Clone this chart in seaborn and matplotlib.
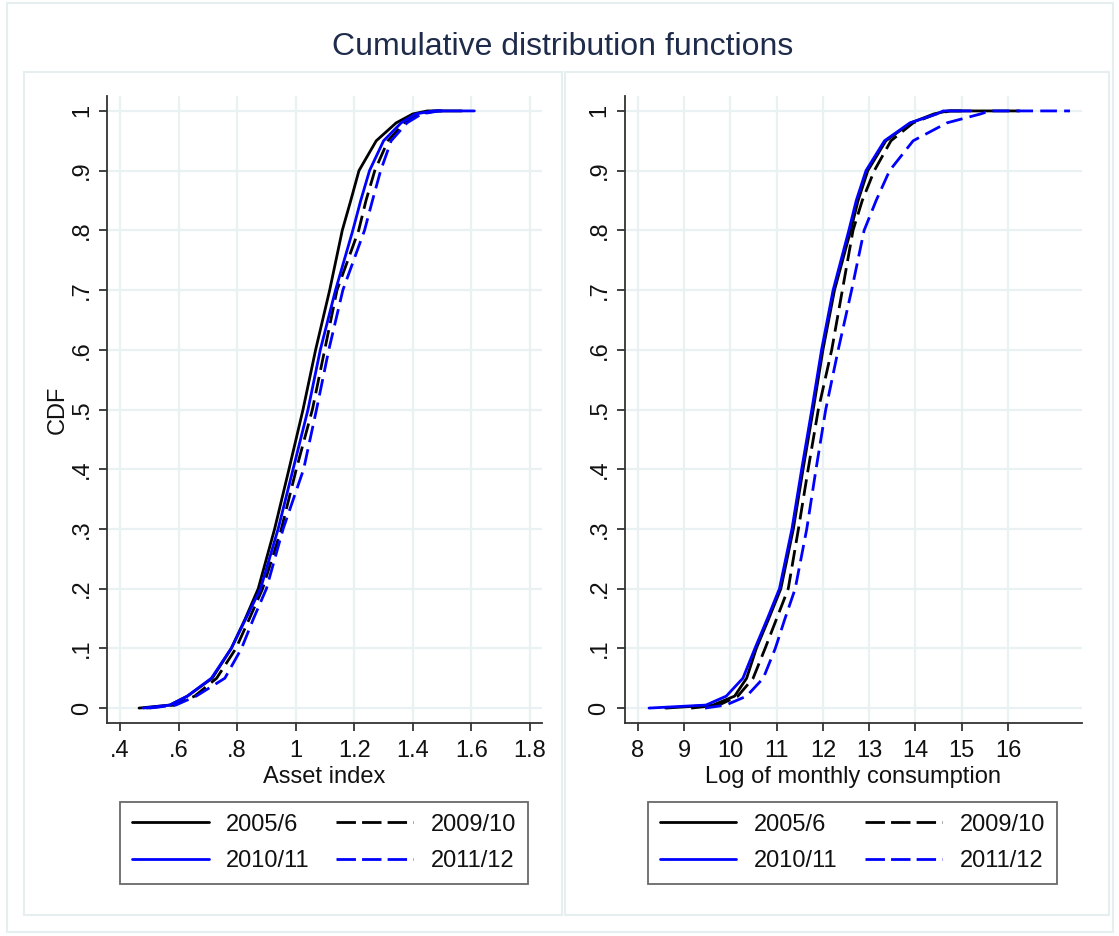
import numpy as np
import pandas as pd
import matplotlib
matplotlib.use("Agg")
import matplotlib.pyplot as plt
from matplotlib.lines import Line2D
from matplotlib.patches import Rectangle
import seaborn as sns

# Survey rounds
periods = ["2005/6", "2009/10", "2010/11", "2011/12"]

# CDF levels at which each distribution is traced (last two: top reached, maximum)
cdf_levels = [0, 0.005, 0.02, 0.05, 0.1, 0.15, 0.2, 0.3, 0.4, 0.5, 0.6, 0.7,
              0.8, 0.85, 0.9, 0.95, 0.98, 0.995, 1.0, 1.0]

# Asset index quantiles per round
asset_2005 = [0.465, 0.57, 0.63, 0.715, 0.78, 0.828, 0.872, 0.928, 0.977, 1.025, 1.068,
              1.116, 1.159, 1.188, 1.216, 1.275, 1.343, 1.40, 1.45, 1.567]
asset_2009 = [0.49, 0.585, 0.655, 0.73, 0.796, 0.842, 0.887, 0.951, 1.002, 1.057, 1.099,
              1.141, 1.215, 1.24, 1.27, 1.315, 1.37, 1.42, 1.48, 1.50]
asset_2010 = [0.48, 0.57, 0.63, 0.712, 0.78, 0.830, 0.880, 0.940, 0.991, 1.042, 1.084,
              1.136, 1.195, 1.222, 1.252, 1.30, 1.36, 1.41, 1.47, 1.61]
asset_2011 = [0.50, 0.59, 0.66, 0.758, 0.815, 0.856, 0.900, 0.957, 1.027, 1.071, 1.113,
              1.161, 1.235, 1.262, 1.29, 1.326, 1.38, 1.43, 1.49, 1.52]

# Log of monthly consumption quantiles per round
cons_2005 = [8.6, 9.62, 10.09, 10.35, 10.56, 10.83, 11.09, 11.36, 11.57, 11.79, 12.0,
             12.25, 12.6, 12.76, 12.97, 13.36, 13.9, 14.4, 14.7, 16.25]
cons_2009 = [9.15, 9.75, 10.16, 10.49, 10.75, 11.0, 11.25, 11.47, 11.68, 11.90, 12.19,
             12.42, 12.65, 12.85, 13.11, 13.47, 13.95, 14.45, 14.75, 15.0]
cons_2010 = [8.24, 9.47, 9.91, 10.27, 10.53, 10.80, 11.06, 11.33, 11.54, 11.76, 11.97,
             12.22, 12.56, 12.72, 12.93, 13.33, 13.88, 14.46, 14.6, 15.2]
cons_2011 = [9.45, 9.9, 10.35, 10.71, 10.97, 11.18, 11.40, 11.65, 11.85, 12.06, 12.33,
             12.62, 12.89, 13.15, 13.44, 13.95, 14.68, 15.41, 15.6, 17.34]

asset_ticks = [0.4, 0.6, 0.8, 1.0, 1.2, 1.4, 1.6, 1.8]
asset_tick_labels = [".4", ".6", ".8", "1", "1.2", "1.4", "1.6", "1.8"]
cons_ticks = [8, 9, 10, 11, 12, 13, 14, 15, 16]
cons_tick_labels = ["8", "9", "10", "11", "12", "13", "14", "15", "16"]
cdf_ticks = [0, 0.1, 0.2, 0.3, 0.4, 0.5, 0.6, 0.7, 0.8, 0.9, 1.0]
cdf_tick_labels = ["0", ".1", ".2", ".3", ".4", ".5", ".6", ".7", ".8", ".9", "1"]

colors = {"2005/6": "#000000", "2009/10": "#000000",
          "2010/11": "#0000ff", "2011/12": "#0000ff"}
dash_pat = (6, 2.6)
legend_dash = (7, 2.2)
dashes = {"2005/6": "", "2009/10": dash_pat, "2010/11": "", "2011/12": dash_pat}
line_w = 2.0


def long_frame(series):
    frames = []
    for p, xs in zip(periods, series):
        frames.append(pd.DataFrame({"x": xs, "cdf": cdf_levels, "period": p}))
    return pd.concat(frames, ignore_index=True)


asset_df = long_frame([asset_2005, asset_2009, asset_2010, asset_2011])
cons_df = long_frame([cons_2005, cons_2009, cons_2010, cons_2011])

sns.set_theme(style="white")
plt.rcParams["font.family"] = ["Liberation Sans", "DejaVu Sans"]

W, H = 1119, 936
fig = plt.figure(figsize=(W / 100, H / 100), dpi=100)
fig.patch.set_facecolor("white")

frame_col = "#e6eef0"
text_col = "#111111"
axis_col = "#333333"


def px_rect(x0, y0, x1, y1):
    return (x0 / W, 1 - y1 / H, (x1 - x0) / W, (y1 - y0) / H)


# Graph region borders
for (x0, y0, x1, y1) in [(7, 3, 1113, 932), (24, 72, 562, 915), (565, 72, 1109, 915)]:
    l, b, w, h = px_rect(x0, y0, x1, y1)
    fig.patches.append(Rectangle((l, b), w, h, transform=fig.transFigure,
                                 fill=False, ec=frame_col, lw=1.5, zorder=0))

ax1 = fig.add_axes(px_rect(107, 96, 542, 723))
ax2 = fig.add_axes(px_rect(624.5, 96, 1082, 723))

panels = [
    (ax1, asset_df, (0.3556, 1.841), asset_ticks, asset_tick_labels, "Asset index",
     (0.03, 0.938)),
    (ax2, cons_df, (7.71, 17.6), cons_ticks, cons_tick_labels, "Log of monthly consumption",
     (0.051, 0.894)),
]

for ax, df, xlim, xt, xtl, xlabel, (lx, lw_) in panels:
    sns.lineplot(data=df, x="x", y="cdf", hue="period", style="period",
                 hue_order=periods, style_order=periods, palette=colors,
                 dashes=dashes, sort=False, estimator=None, lw=line_w,
                 legend=False, ax=ax)
    ax.set_xlim(*xlim)
    ax.set_ylim(-0.025, 1.025)
    ax.set_xticks(xt)
    ax.set_xticklabels(xtl)
    ax.set_yticks(cdf_ticks)
    ax.set_yticklabels(cdf_tick_labels)
    ax.set_axisbelow(True)
    ax.grid(True, color="#e9f1f2", lw=1.6)
    for s in ["top", "right"]:
        ax.spines[s].set_visible(False)
    for s in ["left", "bottom"]:
        ax.spines[s].set_color(axis_col)
        ax.spines[s].set_linewidth(1.3)
    ax.tick_params(direction="out", length=6, width=1.3, color=axis_col,
                   labelsize=17, labelcolor=text_col, pad=6,
                   bottom=True, left=True)
    ax.tick_params(axis="y", labelrotation=90, pad=4)
    for t in ax.get_yticklabels():
        t.set_va("center")
    ax.set_xlabel(xlabel, fontsize=17, color=text_col, labelpad=3)
    ax.set_ylabel("")

    handles = [
        Line2D([], [], color=colors["2005/6"], lw=line_w, ls="-"),
        Line2D([], [], color=colors["2010/11"], lw=line_w, ls="-"),
        Line2D([], [], color=colors["2009/10"], lw=line_w, dashes=legend_dash),
        Line2D([], [], color=colors["2011/12"], lw=line_w, dashes=legend_dash),
    ]
    labels = ["2005/6", "2010/11", "2009/10", "2011/12"]
    leg = ax.legend(handles, labels, ncol=2, loc="upper left", mode="expand",
                    bbox_to_anchor=(lx, -0.1258, lw_, 0.0), borderaxespad=0,
                    fontsize=17, handlelength=3.25, handletextpad=0.75,
                    labelspacing=0.62, borderpad=0.5, columnspacing=1.0,
                    fancybox=False, frameon=True)
    leg.get_frame().set_edgecolor("#444444")
    leg.get_frame().set_linewidth(1.3)
    for t in leg.get_texts():
        t.set_color(text_col)

ax1.set_ylabel("CDF", fontsize=17, color=text_col, labelpad=2)

fig.text(562.5 / W, 1 - 55 / H, "Cumulative distribution functions",
         ha="center", va="baseline", fontsize=23, color="#1e2b4a")

fig.savefig("out.png", dpi=100)
